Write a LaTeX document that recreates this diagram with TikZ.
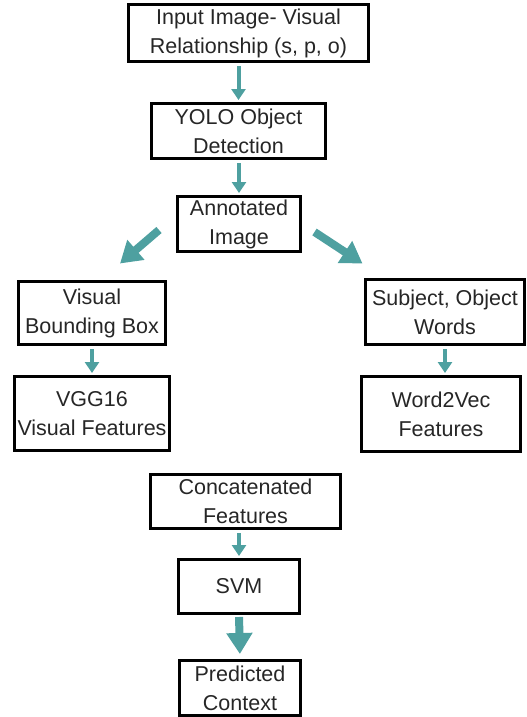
\documentclass[tikz,border=0pt]{standalone}
\usepackage{fontspec}
\setmainfont{Liberation Sans}
\usetikzlibrary{arrows.meta,calc}
\definecolor{flowteal}{RGB}{78,160,160}

\begin{document}
\begin{tikzpicture}
  [x=1pt,y=-1pt,
   every node/.style={draw,line width=3pt,align=center,inner sep=0pt,
     font=\fontsize{21.5}{29}\selectfont,text=black!85},
   flow/.style={flowteal,line width=4pt,-{Triangle[width=14pt,length=11pt]},
     shorten <=3pt,shorten >=2pt},
   bigflow/.style={flowteal,line width=8pt,-{Triangle[width=25pt,length=21pt]}}]
  \useasboundingbox (0,0) rectangle (527,717);

  \node[minimum width=240pt,minimum height=57pt] (inp) at (248.5,33) {Input Image- Visual\\Relationship (s, p, o)};
  \node[minimum width=174pt,minimum height=55pt] (yolo) at (238.5,131) {YOLO Object\\Detection};
  \node[minimum width=123pt,minimum height=55pt] (ann) at (239,224) {Annotated\\Image};
  \node[minimum width=147pt,minimum height=63pt] (vbb) at (92,313) {Visual\\Bounding Box};
  \node[minimum width=159pt,minimum height=65pt] (subj) at (445,312) {Subject, Object\\Words};
  \node[minimum width=155pt,minimum height=74pt] (vgg) at (92,413.5) {VGG16\\Visual Features};
  \node[minimum width=159pt,minimum height=75pt] (w2v) at (441,414) {Word2Vec\\Features};
  \node[minimum width=190pt,minimum height=54pt] (concat) at (245.5,501.5) {Concatenated\\Features};
  \node[minimum width=121pt,minimum height=54pt] (svm) at (239,586.5) {SVM};
  \node[minimum width=121pt,minimum height=55pt] (pred) at (240,688) {Predicted\\Context};

  \foreach \from/\to in {inp/yolo, yolo/ann, vbb/vgg, concat/svm}
    \draw [flow] (\to.north |- \from.south) -- (\to.north);
  \draw [flow] (subj.south) -- (subj.south |- w2v.north);

  \draw [bigflow] ($(ann.west)+(-17,6)$) -- ($(vbb.north)+(28,-16.5)$);
  \draw [bigflow] ($(ann.east)+(12.5,8)$) -- ($(subj.north west)+(-1.5,-14.5)$);
  \draw [bigflow,shorten <=2pt,shorten >=5pt] (svm.south) -- (pred.north);

\end{tikzpicture}
\end{document}
